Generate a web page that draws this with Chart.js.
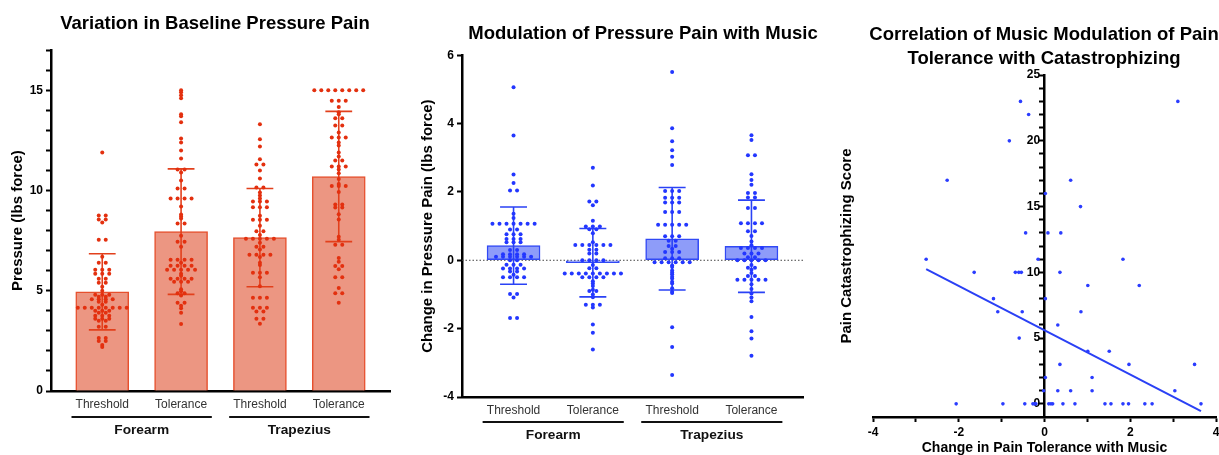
<!DOCTYPE html>
<html lang="en">
<head>
<meta charset="UTF-8">
<title>Pressure Pain and Music</title>
<script src="https://cdn.jsdelivr.net/npm/chart.js"></script>
<style>
  html, body { margin: 0; padding: 0; background: #fff; overflow: hidden; width: 1219px; height: 455px; }
  .panel { position: absolute; top: 0; height: 455px; }
</style>
</head>
<body>
<div class="panel" style="left:0;width:430px"><canvas id="c1"></canvas></div>
<div class="panel" style="left:405px;width:476px"><canvas id="c2"></canvas></div>
<div class="panel" style="left:830px;width:428px;height:470px"><canvas id="c3"></canvas></div>

<script>
// ---- data ----
const categories = ['Threshold', 'Tolerance', 'Threshold', 'Tolerance'];
const sites = ['Forearm', 'Trapezius'];
const siteGroups = [[0, 1], [2, 3]];

// panel 1: baseline pressure (lbs force)
const baseMean = [4.95, 7.95, 7.65, 10.7];
const baseSD = [1.9, 3.13, 2.45, 3.25];
const baseForearmThr = [11.9, 8.75, 8.75, 8.55, 8.55, 8.4, 7.55, 7.55, 6.7, 6.4, 6.4, 6.05, 6.05, 6.05,
  5.85, 5.85, 5.85, 5.6, 5.6, 5.4, 5.4, 5.2, 5.0, 4.8, 4.8, 4.8, 4.7, 4.7, 4.58, 4.58, 4.58, 4.58,
  4.45, 4.45, 4.3, 4.15, 4.15, 4.15, 4.15, 4.15, 4.15, 4.15, 4.15, 4.0, 4.0, 4.0, 3.9, 3.9,
  3.75, 3.75, 3.75, 3.6, 3.6, 3.6, 3.5, 3.5, 3.2, 3.2, 2.65, 2.65, 2.5, 2.5, 2.3, 2.2];
const baseForearmTol = [15.0, 14.9, 14.75, 14.6, 13.8, 13.7, 13.4, 12.6, 12.4, 12.0, 11.6, 11.05, 11.05,
  10.9, 10.5, 10.1, 10.1, 9.6, 9.6, 9.6, 9.6, 9.2, 8.8, 8.7, 8.6, 8.35, 8.35, 7.75, 7.45, 7.45, 7.2,
  6.55, 6.55, 6.55, 6.55, 6.4, 6.25, 6.25, 6.25, 6.25, 6.05, 6.05, 6.05, 6.05, 6.05, 5.85, 5.75,
  5.6, 5.6, 5.6, 5.6, 5.45, 5.45, 5.45, 5.07, 4.97, 4.87, 4.87, 4.77, 4.4, 4.4, 4.25, 4.13, 3.9, 3.34];
const baseTrapThr = [13.3, 12.56, 12.2, 11.56, 11.3, 11.3, 11.0, 10.6, 10.15, 10.15, 9.9, 9.75, 9.6,
  9.45, 9.45, 9.45, 9.17, 9.17, 9.17, 8.74, 8.54, 8.54, 8.54, 8.24, 7.97, 7.97, 7.78,
  7.6, 7.6, 7.6, 7.6, 7.6, 7.4, 7.2, 7.2, 7.06, 6.8, 6.8, 6.8, 6.8, 6.68, 6.4, 6.28, 5.9, 5.9, 5.9,
  5.67, 5.22, 4.65, 4.65, 4.65, 4.15, 4.15, 4.15, 3.96, 3.96, 3.6, 3.6, 3.36];
const baseTrapTol = [15.0, 15.0, 15.0, 15.0, 15.0, 15.0, 15.0, 15.0, 14.48, 14.48, 14.48, 14.17, 13.9,
  13.8, 13.6, 13.6, 13.25, 13.25, 12.9, 12.65, 12.65, 12.65, 12.4, 12.25, 11.9, 11.7, 11.5, 11.5,
  11.2, 11.2, 11.2, 11.05, 10.86, 10.58, 10.33, 10.22, 10.22, 10.22, 9.93, 9.3, 9.3, 9.15, 9.15,
  8.82, 8.56, 7.7, 7.55, 7.3, 7.3, 6.63, 6.45, 6.24, 6.24, 6.07, 5.68, 5.68, 5.14, 4.87, 4.87, 4.4];
const baseTicks = [0, 1, 2, 3, 4, 5, 6, 7, 8, 9, 10, 11, 12, 13, 14, 15, 16, 17];

// panel 2: change in pressure pain with music (lbs force)
const musicMean = [0.43, -0.07, 0.63, 0.41];
const musicSD = [1.13, 1.0, 1.5, 1.35];
const musicForearmThr = [5.06, 3.65, 2.51, 2.26, 2.04, 2.04, 1.36, 1.24, 1.07, 1.07, 1.07, 1.07, 1.07,
  1.07, 1.07, 0.9, 0.9, 0.76, 0.76, 0.76, 0.62, 0.62, 0.62, 0.53, 0.53, 0.53, 0.3, 0.3,
  0.18, 0.18, 0.18, 0.18, 0.1, 0.1, 0.1, 0.1, 0.1, 0.1, 0.0, 0.0, -0.13, -0.13, -0.13,
  -0.24, -0.24, -0.24, -0.24, -0.33, -0.33, -0.42, -0.5, -0.5, -0.5, -0.5, -0.99, -0.99, -1.09, -1.69, -1.69];
const musicForearmTol = [2.71, 2.19, 1.72, 1.72, 1.61, 1.16, 0.99, 0.99, 0.99, 0.91, 0.91, 0.79, 0.53,
  0.45, 0.45, 0.45, 0.45, 0.45, 0.45, 0.31, 0.31, 0.2, 0.2, 0.0, 0.0, 0.0, 0.0, -0.14, -0.23, -0.23,
  -0.39, -0.39, -0.39, -0.39, -0.39, -0.39, -0.39, -0.39, -0.39, -0.5, -0.5, -0.5, -0.5,
  -0.61, -0.68, -0.75, -0.86, -0.9, -0.9, -1.0, -1.08, -1.3, -1.3, -1.3, -1.38, -1.88, -2.12, -2.61];
const musicTrapThr = [5.51, 3.86, 3.48, 3.22, 3.03, 2.79, 2.03, 2.03, 2.03, 1.83, 1.83, 1.83,
  1.69, 1.69, 1.69, 1.41, 1.41, 1.41, 1.04, 1.04, 1.04, 1.04, 1.04, 0.7, 0.7, 0.7, 0.57, 0.57,
  0.42, 0.42, 0.34, 0.24, 0.24, 0.24, 0.06, 0.06, 0.06, -0.06, -0.06, -0.06, -0.06, -0.06, -0.06,
  -0.15, -0.2, -0.3, -0.36, -0.41, -0.48, -0.53, -0.63, -0.68, -0.82, -0.92, -0.96, -1.96, -2.54, -3.36];
const musicTrapTol = [3.66, 3.52, 3.07, 3.07, 2.52, 2.35, 2.21, 1.97, 1.97, 1.84, 1.84, 1.53, 1.53,
  1.08, 1.08, 1.08, 1.08, 0.85, 0.85, 0.71, 0.55, 0.44, 0.36, 0.36, 0.36, 0.36, 0.2, 0.2, 0.2,
  0.09, 0.09, 0.0, 0.0, 0.0, 0.0, 0.0, -0.14, -0.22, -0.22, -0.28, -0.37, -0.46, -0.46,
  -0.57, -0.57, -0.57, -0.57, -0.57, -0.7, -0.84, -0.97, -1.09, -1.2, -1.66, -2.08, -2.29, -2.79];
const musicTicks = [-4, -2, 0, 2, 4, 6];

// panel 3: tolerance change vs catastrophizing
const tolChange = [-2.76, -2.27, -2.06, -1.64, -1.19, -1.09, -0.97, -0.82, -0.68, -0.6, -0.54, -0.56,
  -0.52, -0.59, -0.46, -0.44, -0.37, -0.27, -0.23, -0.2, -0.15, 0.02, 0.02, 0.02, -0.02, 0.08,
  0.1, 0.15, 0.19, 0.31, 0.31, 0.36, 0.36, 0.38, 0.43, 0.61, 0.61, 0.71, 0.84, 0.85, 1.01, 1.01,
  1.11, 1.11, 1.41, 1.51, 1.55, 1.83, 1.83, 1.96, 1.97, 2.21, 2.34, 2.51, 3.04, 3.11, 3.5, 3.65];
const catScore = [11, 17, 0, 10, 8, 7, 0, 20, 10, 10, 10, 23,
  7, 5, 0, 13, 22, 0, 0, 0, 11, 16, 8, 2, 1, 13,
  0, 0, 0, 6, 1, 10, 3, 13, 0, 17, 1, 0, 15, 7, 9, 4,
  2, 1, 0, 4, 0, 11, 0, 0, 3, 9, 0, 0, 1, 23, 3, 0];
const fitX = [-2.76, 3.65];
const fitY = [10.25, -0.55];
const corrXTicks = [-4, -3, -2, -1, 0, 1, 2, 3, 4];
const corrYTicks = [0, 1, 2, 3, 4, 5, 6, 7, 8, 9, 10, 11, 12, 13, 14, 15, 16, 17, 18, 19, 20, 21, 22, 23, 24, 25];

// ---- styling / layout ----
const FONT = "'Liberation Sans', Arial, Helvetica, sans-serif";
Chart.defaults.font.family = FONT;
Chart.defaults.color = '#000';
Chart.defaults.animation = false;
Chart.defaults.plugins.legend.display = false;
Chart.defaults.plugins.tooltip.enabled = false;

const X_MIN = -0.65, X_MAX = 3.65;
const DOT_STEP = 7 / 79;   // horizontal dot spacing in category units
const CAP = 0.17;          // half width of error-bar caps
const BRACKET_PAD = 0.39;

// dots with the same value sit side by side, centred on the column
function swarm(values, ci) {
  const counts = new Map();
  values.forEach(v => counts.set(v, (counts.get(v) || 0) + 1));
  const pts = [];
  counts.forEach((n, v) => {
    for (let j = 0; j < n; j++) pts.push({ x: ci + (j - (n - 1) / 2) * DOT_STEP, y: v });
  });
  return pts;
}

function errorBars(means, sds) {
  const pts = [];
  means.forEach((m, i) => {
    const lo = m - sds[i], hi = m + sds[i];
    pts.push({ x: i, y: lo }, { x: i, y: hi }, { x: i, y: null },
      { x: i - CAP, y: hi }, { x: i + CAP, y: hi }, { x: i, y: null },
      { x: i - CAP, y: lo }, { x: i + CAP, y: lo }, { x: i, y: null });
  });
  return pts;
}

// empty box on the right, only there to centre the title like the original
function spacer(width) {
  return {
    type: 'linear', position: 'right',
    afterFit: s => { s.width = width; },
    grid: { display: false }, border: { display: false }, ticks: { display: false }
  };
}

const groupLines = {
  id: 'groupLines',
  afterDraw(chart) {
    const xs = chart.scales.x, g = chart.scales.xg, ctx = chart.ctx;
    const y = g.top + chart.options.plugins.groupLines.offset;
    ctx.save();
    ctx.strokeStyle = '#111';
    ctx.lineWidth = 2;
    siteGroups.forEach(idx => {
      ctx.beginPath();
      ctx.moveTo(xs.getPixelForValue(idx[0] - BRACKET_PAD), y);
      ctx.lineTo(xs.getPixelForValue(idx[idx.length - 1] + BRACKET_PAD), y);
      ctx.stroke();
    });
    ctx.restore();
  }
};

function groupedScales(opts) {
  return {
    x: {
      type: 'linear', min: X_MIN, max: X_MAX, weight: 0, offset: false,
      afterBuildTicks: s => { s.ticks = categories.map((c, i) => ({ value: i })); },
      afterFit: s => { s.height = opts.xH; },
      ticks: { autoSkip: false, maxRotation: 0, padding: opts.xPad, color: '#333',
        font: { size: 12 }, callback: v => categories[Math.round(v)] },
      grid: { display: false, drawTicks: false, offset: false },
      border: { color: '#000', width: 2.5 }
    },
    xg: {
      type: 'linear', position: 'bottom', min: X_MIN, max: X_MAX, weight: 1, offset: false,
      afterBuildTicks: s => { s.ticks = siteGroups.map(g => ({ value: (g[0] + g[g.length - 1]) / 2 })); },
      afterFit: s => { s.height = opts.xgH; },
      ticks: { autoSkip: false, maxRotation: 0, padding: opts.xgPad, color: '#111',
        font: { size: 13.7, weight: 'bold' }, callback: (v, i) => sites[i] },
      grid: { display: false, drawTicks: false },
      border: { display: false }
    },
    y: {
      min: opts.yMin, max: opts.yMax,
      afterBuildTicks: s => { s.ticks = opts.yTicks.map(v => ({ value: v })); },
      afterFit: s => { s.width = opts.yW; },
      ticks: { autoSkip: false, padding: 3, font: { size: 12, weight: 'bold' }, color: '#000',
        callback: opts.yLabel },
      grid: { drawOnChartArea: false, drawTicks: true, tickLength: 5, tickWidth: 2, tickColor: '#000' },
      border: { color: '#000', width: 2.5 },
      title: { display: true, text: opts.yTitle, font: { size: 15, weight: 'bold' },
        padding: { top: opts.yTitlePad, bottom: 0 } }
    },
    yr: spacer(opts.rightW)
  };
}

// ---- panel 1 ----
const red = '#e3300f';
new Chart(document.getElementById('c1'), {
  type: 'bar',
  data: {
    datasets: [
      { type: 'scatter', data: [baseForearmThr, baseForearmTol, baseTrapThr, baseTrapTol].flatMap((v, i) => swarm(v, i)),
        pointRadius: 2, pointBackgroundColor: red, pointBorderWidth: 0, order: 1 },
      { type: 'line', data: errorBars(baseMean, baseSD), borderColor: '#e2401c', borderWidth: 1.6,
        pointRadius: 0, spanGaps: false, order: 2 },
      { type: 'bar', data: baseMean.map((m, i) => ({ x: i, y: m })), backgroundColor: '#ec9682',
        borderColor: '#e6502e', borderWidth: 1.5, barThickness: 53, order: 3 }
    ]
  },
  options: {
    responsive: true, maintainAspectRatio: false,
    layout: { padding: { left: 4, right: 4, top: 0, bottom: 14 } },
    plugins: {
      title: { display: true, text: 'Variation in Baseline Pressure Pain', color: '#000',
        font: { size: 18.5, weight: 'bold' }, padding: { top: 13, bottom: 15 } },
      groupLines: { offset: 6 }
    },
    scales: groupedScales({ xH: 20, xPad: 6, xgH: 30, xgPad: 11, yMin: 0, yMax: 17, yTicks: baseTicks,
      yW: 47, yTitlePad: 5, rightW: 36, yTitle: 'Pressure (lbs force)', yLabel: v => (v % 5 === 0 ? v : '') })
  },
  plugins: [groupLines]
});

// ---- panel 2 ----
const blue = '#2337ff';
new Chart(document.getElementById('c2'), {
  type: 'bar',
  data: {
    datasets: [
      { type: 'scatter', data: [musicForearmThr, musicForearmTol, musicTrapThr, musicTrapTol].flatMap((v, i) => swarm(v, i)),
        pointRadius: 2, pointBackgroundColor: blue, pointBorderWidth: 0, order: 1 },
      { type: 'line', data: errorBars(musicMean, musicSD), borderColor: '#2a42f5', borderWidth: 1.6,
        pointRadius: 0, spanGaps: false, order: 2 },
      { type: 'bar', data: musicMean.map((m, i) => ({ x: i, y: m })), backgroundColor: '#8e9cf9',
        borderColor: '#3149f5', borderWidth: 1.5, borderSkipped: false, barThickness: 53, order: 3 },
      { type: 'line', data: [{ x: X_MIN, y: 0 }, { x: X_MAX, y: 0 }], borderColor: '#444',
        borderWidth: 1, borderDash: [1.5, 2], pointRadius: 0, order: 4 }
    ]
  },
  options: {
    responsive: true, maintainAspectRatio: false,
    layout: { padding: { left: 4, right: 4, top: 0, bottom: 12 } },
    plugins: {
      title: { display: true, text: 'Modulation of Pressure Pain with Music', color: '#000',
        font: { size: 18.5, weight: 'bold' }, padding: { top: 23, bottom: 10 } },
      groupLines: { offset: 5 }
    },
    scales: groupedScales({ xH: 20, xPad: 6, xgH: 26, xgPad: 10, yMin: -4, yMax: 6, yTicks: musicTicks,
      yW: 53, yTitlePad: 10, rightW: 74, yTitle: 'Change in Pressure Pain (lbs force)', yLabel: v => v })
  },
  plugins: [groupLines]
});

// ---- panel 3 ----
new Chart(document.getElementById('c3'), {
  type: 'scatter',
  data: {
    datasets: [
      { data: tolChange.map((x, i) => ({ x, y: catScore[i] })), pointRadius: 1.8,
        pointBackgroundColor: '#2a3cff', pointBorderWidth: 0, order: 1 },
      { type: 'line', data: fitX.map((x, i) => ({ x, y: fitY[i] })), borderColor: '#2a40f5',
        borderWidth: 2, pointRadius: 0, order: 2 }
    ]
  },
  options: {
    responsive: true, maintainAspectRatio: false,
    layout: { padding: { left: 4, right: 4, top: 0, bottom: 13 } },
    plugins: {
      title: { display: true, text: ['Correlation of Music Modulation of Pain', 'Tolerance with Catastrophizing'],
        color: '#000', font: { size: 18.5, weight: 'bold', lineHeight: 1.3 }, padding: { top: 23, bottom: 4 } }
    },
    scales: {
      x: {
        type: 'linear', min: -4, max: 4,
        afterBuildTicks: s => { s.ticks = corrXTicks.map(v => ({ value: v })); },
        afterFit: s => { s.height = 40; },
        ticks: { autoSkip: false, maxRotation: 0, padding: 3, font: { size: 12, weight: 'bold' }, color: '#000',
          callback: v => (v % 2 === 0 ? v : '') },
        grid: { drawOnChartArea: false, drawTicks: true, tickLength: 5, tickWidth: 2, tickColor: '#000' },
        border: { color: '#000', width: 2.5 },
        title: { display: true, text: 'Change in Pain Tolerance with Music', font: { size: 14, weight: 'bold' },
          padding: { top: 4, bottom: 0 } }
      },
      // axis line and tick marks crossing at x = 0
      y: {
        type: 'linear', position: { x: 0 }, min: -1, max: 25,
        afterBuildTicks: s => { s.ticks = corrYTicks.map(v => ({ value: v })); },
        ticks: { autoSkip: false, callback: () => '' },
        grid: { drawOnChartArea: false, drawTicks: true, tickLength: 4, tickWidth: 2, tickColor: '#000' },
        border: { color: '#000', width: 2.5 }
      },
      // its labels, set just left of the tick marks
      yl: {
        type: 'linear', position: { x: -0.1 }, min: -1, max: 25,
        afterBuildTicks: s => { s.ticks = corrYTicks.map(v => ({ value: v })); },
        ticks: { autoSkip: false, font: { size: 12, weight: 'bold' }, color: '#000',
          callback: v => (v % 5 === 0 ? v : '') },
        grid: { display: false }, border: { display: false }
      },
      yt: {
        type: 'linear', position: 'left',
        afterFit: s => { s.width = 39; },
        grid: { display: false }, border: { display: false }, ticks: { display: false },
        title: { display: true, text: 'Pain Catastrophizing Score', font: { size: 15, weight: 'bold' },
          padding: { top: 4, bottom: 0 } }
      },
      yr: spacer(38)
    }
  }
});
</script>
</body>
</html>
